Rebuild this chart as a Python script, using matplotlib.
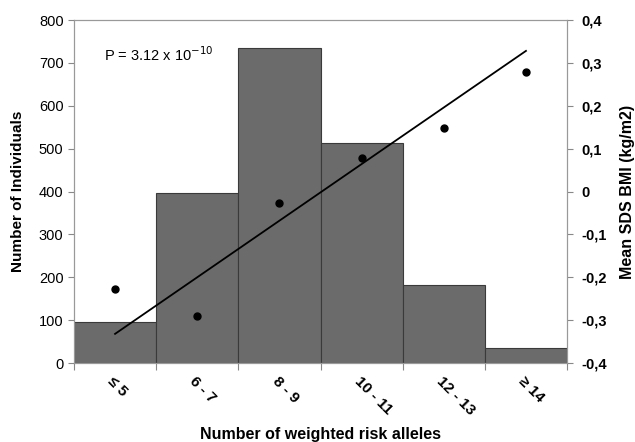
import numpy as np
import matplotlib.pyplot as plt
import matplotlib.transforms as mtransforms
from matplotlib.ticker import FuncFormatter

plt.rcParams['font.family'] = ['Liberation Sans', 'DejaVu Sans']

categories = ['≤ 5', '6 - 7', '8 - 9', '10 - 11', '12 - 13', '≥ 14']
individuals = [95, 397, 735, 513, 183, 35]
mean_sds_bmi = [-0.227, -0.29, -0.027, 0.078, 0.148, 0.279]
trend_ends = [-0.332, 0.328]   # fitted line at first and last category

fig = plt.figure(figsize=(6.35, 4.42), dpi=100)
ax = fig.add_axes([0.1165, 0.1787, 0.7765, 0.776])
x = np.arange(len(categories))

ax.bar(x, individuals, width=1.0, color='#6b6b6b', edgecolor='#3a3a3a', linewidth=0.8)
ax.set_xlim(-0.5, len(categories) - 0.5)
ax.set_ylim(0, 800)
ax.set_yticks(range(0, 801, 100))
ax.set_xticks(np.append(x - 0.5, x[-1] + 0.5))
ax.set_xticklabels([])
ax.set_xticks(x, minor=True)
ax.set_xticklabels(categories, minor=True, rotation=-45, ha='left', va='top',
                   fontsize=11, fontweight='bold', rotation_mode='anchor')
shift = mtransforms.ScaledTranslation(6 / 100, 0, fig.dpi_scale_trans)
for lab in ax.get_xticklabels(minor=True):
    lab.set_transform(lab.get_transform() + shift)
ax.tick_params(axis='x', which='minor', length=0, pad=8)
ax.tick_params(axis='x', which='major', length=5, color='#888888', direction='out')
ax.tick_params(axis='y', length=4, color='#888888', labelsize=10.5)
for s in ax.spines.values():
    s.set_color('#999999')

ax.set_ylabel('Number of Individuals', fontsize=11, fontweight='bold', labelpad=10)
ax.set_xlabel('Number of weighted risk alleles', fontsize=11.5, fontweight='bold')
ax.xaxis.set_label_coords(0.5, -0.187)
ax.text(0.06, 0.88, r'P = 3.12 x 10$^{-10}$', transform=ax.transAxes, fontsize=10.5)

ax2 = ax.twinx()
ax2.set_ylim(-0.4, 0.4)
ax2.set_yticks(np.round(np.arange(-0.4, 0.41, 0.1), 1))
ax2.yaxis.set_major_formatter(FuncFormatter(
    lambda v, p: '0' if abs(v) < 1e-9 else ('%.1f' % v).replace('.', ',')))
ax2.tick_params(axis='y', length=4, color='#888888', labelsize=10.5, pad=6)
for lab in ax2.get_yticklabels():
    lab.set_fontweight('bold')
for s in ax2.spines.values():
    s.set_color('#999999')
ax2.plot(x, mean_sds_bmi, 'o', color='black', markersize=5)
ax2.plot([x[0], x[-1]], trend_ends, color='black', linewidth=1.3)
ax2.set_ylabel('Mean SDS BMI (kg/m2)', fontsize=11.5, fontweight='bold', labelpad=10)

fig.savefig('out.png', dpi=100)
